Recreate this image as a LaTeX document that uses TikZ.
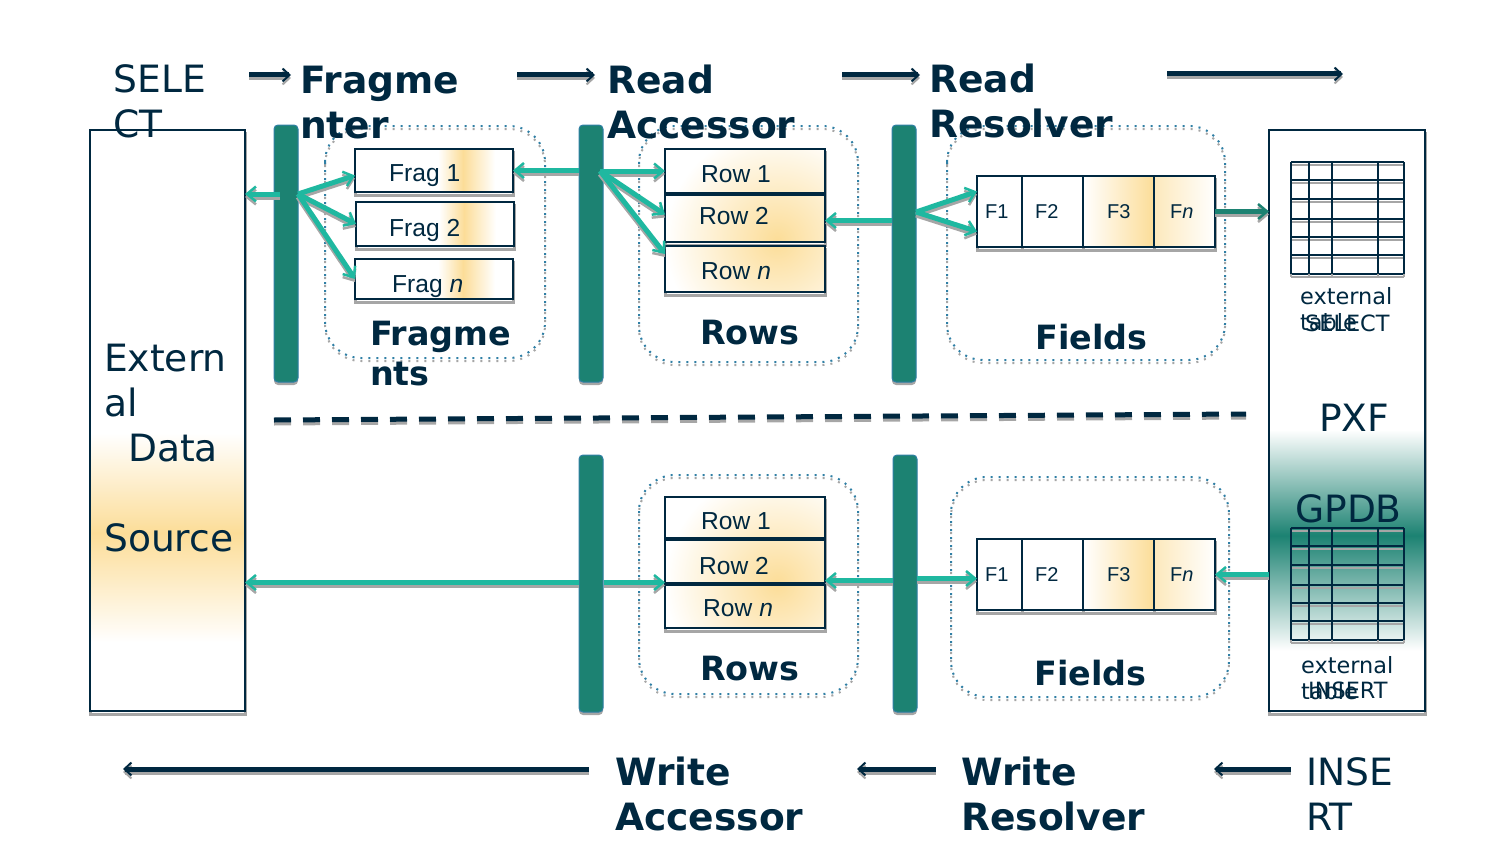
\documentclass[tikz,border=0pt]{standalone}
\usepackage{fontspec}
\setmainfont{DejaVu Sans}
\newfontfamily\libfont{Liberation Sans}
\usetikzlibrary{arrows.meta}
\definecolor{navy}{HTML}{002840}
\definecolor{barteal}{HTML}{1C8272}
\definecolor{wireteal}{HTML}{1FB8A0}
\definecolor{boxgold}{HTML}{FCDD98}
\definecolor{shadowgray}{HTML}{A6A6A6}
\definecolor{dotblue}{HTML}{2F7FA5}
\pgfdeclarehorizontalshading{fragfill}{100bp}{color(0bp)=(white);color(51.3bp)=(white);color(59.2bp)=(boxgold);color(69.3bp)=(white);color(100bp)=(white)}
\pgfdeclareverticalshading{sourcefill}{100bp}{color(0bp)=(white);color(30.9bp)=(white);color(40.3bp)=(boxgold);color(48.9bp)=(white);color(100bp)=(white)}
\pgfdeclareverticalshading{pxffill}{100bp}{color(0bp)=(white);color(30.2bp)=(white);color(40.1bp)=(barteal);color(49.2bp)=(white);color(100bp)=(white)}
\tikzset{
  boxshadow/.style={preaction={draw=shadowgray,line width=3pt,transform canvas={yshift=-3.5pt}}},
  barshadow/.style={preaction={fill=shadowgray,transform canvas={yshift=-3pt}}},
  lineshadow/.style={preaction={draw=shadowgray,line width=#1,transform canvas={yshift=-3pt}}},
  wireshadow/.style={preaction={draw=shadowgray,line width=5pt,transform canvas={yshift=-3pt},
    -{Straight Barb[length=9pt,width=15pt,line width=2.5pt]}}},
  flowshadow/.style={preaction={draw=shadowgray,line width=5pt,transform canvas={yshift=-3pt},
    -{Straight Barb[length=7pt,width=13pt,line width=2pt]}}},
  bigtext/.style={anchor=base west,inner sep=0pt,align=left,text=navy,font=\fontsize{37.6}{45}\selectfont},
  boldtext/.style={bigtext,font=\fontsize{37.6}{45}\selectfont\bfseries},
  headtext/.style={bigtext,font=\fontsize{33.4}{40}\selectfont\bfseries},
  smalltext/.style={anchor=base west,inner sep=0pt,align=left,text=navy,font=\fontsize{22.4}{26}\selectfont},
  boxlabel/.style={anchor=base west,inner sep=0pt,text=navy,font=\libfont\fontsize{24.6}{28}\selectfont},
  fieldlabel/.style={anchor=base west,inner sep=0pt,text=navy,font=\libfont\fontsize{20}{24}\selectfont},
  plainbox/.style={draw=navy,line width=2pt,fill=white,boxshadow,anchor=north west,inner sep=0pt,outer sep=0pt},
  fragbox/.style={plainbox,shading=fragfill},
  rowbox/.style={plainbox,path picture={\shade[inner color=boxgold,outer color=white] (#1) circle[radius=112];}},
  bar/.style={draw=dotblue,line width=1pt,fill=barteal,rounded corners=4pt,barshadow,anchor=north west,inner sep=0pt,outer sep=0pt,minimum width=24pt,minimum height=257pt},
  group/.style={draw=dotblue,line width=2pt,dash pattern=on 2pt off 6pt,rounded corners=36pt,
    preaction={draw=shadowgray,transform canvas={yshift=-3pt},line width=2pt,dash pattern=on 2pt off 6pt}},
  wire/.style={draw=wireteal,line width=5pt,-{Straight Barb[length=9pt,width=15pt,line width=2.5pt]},wireshadow},
  flow/.style={draw=navy,line width=5pt,-{Straight Barb[length=7pt,width=13pt,line width=2pt]},flowshadow},
  divider/.style={draw=navy,line width=5pt,dash pattern=on 17pt off 12pt,
    preaction={draw=shadowgray,line width=5pt,dash pattern=on 17pt off 12pt,transform canvas={yshift=-3pt}}},
  tableline/.style={draw=navy,line width=2.5pt,lineshadow=2.5pt},
}
\begin{document}
\begin{tikzpicture}[x=1pt,y=-1pt]
  \useasboundingbox (0,0) rectangle (1500,843);
  % dotted groups
  \draw[group] (325,126) rectangle (545,358);
  \draw[group] (639,126) rectangle (858,362);
  \draw[group] (947,126) rectangle (1225,360);
  \draw[group] (639,475) rectangle (858,694);
  \draw[group] (951,477) rectangle (1229,697);
  % end boxes
  \node[plainbox,shading=sourcefill,minimum width=155pt,minimum height=581pt] (source) at (90,130) {};
  \node[plainbox,shading=pxffill,minimum width=156pt,minimum height=581pt] (pxf) at (1269,130) {};
  % bars
  \node[bar] (bar1) at (274,125) {};
  \node[bar] (bar2) at (579,125) {};
  \node[bar] (bar3) at (892,125) {};
  \node[bar] (bar4) at (579,455) {};
  \node[bar] (bar5) at (893,455) {};
  % fragments
  \node[fragbox,minimum width=158pt,minimum height=43pt] (frag1) at (355,149) {};
  \node[fragbox,minimum width=158pt,minimum height=44pt] (frag2) at (356,202) {};
  \node[fragbox,minimum width=158pt,minimum height=40pt] (fragn) at (355,259) {};
  \node[boxlabel] (frag1text) at (389,181) {Frag 1};
  \node[boxlabel] (frag2text) at (389,236) {Frag 2};
  \node[boxlabel] (fragntext) at (392,292) {Frag \textit{n}};
  % rows
  \coordinate (glowup) at (777,240);
  \coordinate (glowlow) at (777,583);
  \node[rowbox=glowup,minimum width=160pt,minimum height=44pt] (row1) at (665,149) {};
  \node[rowbox=glowup,minimum width=160pt,minimum height=47pt] (row2) at (665,195) {};
  \node[rowbox=glowup,minimum width=160pt,minimum height=46pt] (rown) at (665,246) {};
  \node[rowbox=glowlow,minimum width=160pt,minimum height=41pt] (lowrow1) at (665,497) {};
  \node[rowbox=glowlow,minimum width=160pt,minimum height=43pt] (lowrow2) at (665,540) {};
  \node[rowbox=glowlow,minimum width=160pt,minimum height=43pt] (lowrown) at (665,585) {};
  \node[boxlabel] (row1text) at (701,182) {Row 1};
  \node[boxlabel] (row2text) at (699,224) {Row 2};
  \node[boxlabel] (rowntext) at (701,279) {Row \textit{n}};
  \node[boxlabel] (lowrow1text) at (701,529) {Row 1};
  \node[boxlabel] (lowrow2text) at (699,574) {Row 2};
  \node[boxlabel] (lowrowntext) at (703,616) {Row \textit{n}};
  % fields
  \foreach \N/\Y/\T in {up/176/218,low/539/581}
  {
    \node[plainbox,minimum width=45pt,minimum height=71pt] (\N f1) at (977,\Y) {};
    \node[plainbox,minimum width=61pt,minimum height=71pt] (\N f2) at (1022,\Y) {};
    \node[plainbox,left color=white,right color=boxgold,minimum width=71pt,minimum height=71pt] (\N f3) at (1083,\Y) {};
    \node[plainbox,left color=boxgold!65,right color=white,minimum width=61pt,minimum height=71pt] (\N fn) at (1154,\Y) {};
    \node[fieldlabel] (\N f1text) at (985,\T) {F1};
    \node[fieldlabel] (\N f2text) at (1035,\T) {F2};
    \node[fieldlabel] (\N f3text) at (1107,\T) {F3};
    \node[fieldlabel] (\N fntext) at (1170,\T) {F\textit{n}};
  }
  % external tables
  \foreach \Y in {162,528}
  {
    \foreach \R in {0,18,37,57,75,93,112}
      {\draw[tableline] (1291,\Y+\R) -- (1404,\Y+\R);}
    \foreach \C in {1291,1309,1332,1378,1404}
      {\draw[tableline] (\C,\Y) -- (\C,\Y+112);}
  }
  % texts
  \node[bigtext] (select) at (113.5,137) {SELE\\CT};
  \node[boldtext] (fragmenter) at (300,138) {Fragme\\nter};
  \node[boldtext] (readacc) at (607,138) {Read\\Accessor};
  \node[boldtext] (readres) at (929,137) {Read\\Resolver};
  \node[bigtext] (sourcetext) at (104,551) {Extern\\al\\\hspace*{24pt}Data\\[45pt]Source};
  \node[headtext] (fragments) at (370,385) {Fragme\\nts};
  \node[headtext] (rowsup) at (700,344) {Rows};
  \node[headtext] (fieldsup) at (1035,349) {Fields};
  \node[headtext] (rowslow) at (700,680) {Rows};
  \node[headtext] (fieldslow) at (1034,685) {Fields};
  \node[bigtext] (pxftext) at (1319,431) {PXF};
  \node[bigtext] (gpdb) at (1295,522) {GPDB};
  \node[smalltext] (exttable) at (1300,330) {external\\table};
  \node[smalltext] (selecttext) at (1305,331) {SELECT};
  \node[smalltext] (lowtable) at (1301,699) {external\\table};
  \node[smalltext] (inserttext) at (1308,698) {INSERT};
  \node[boldtext] (writeacc) at (615,830) {Write\\Accessor};
  \node[boldtext] (writeres) at (961,830) {Write\\Resolver};
  \node[bigtext] (insert) at (1306,830) {INSE\\RT};
  % divider
  \coordinate (divleft) at (274,420);
  \coordinate (divright) at (1246,414);
  \draw[divider] (divleft) -- (divright);
  % flow arrows
  \coordinate (f1a) at (249,75);
  \coordinate (f1b) at (291,75);
  \coordinate (f2a) at (517,75);
  \coordinate (f2b) at (595,75);
  \coordinate (f3a) at (842,75);
  \coordinate (f3b) at (920,75);
  \coordinate (f4a) at (1167,74);
  \coordinate (f4b) at (1343,74);
  \coordinate (f5a) at (589,769);
  \coordinate (f5b) at (123,769);
  \coordinate (f6a) at (936,769);
  \coordinate (f6b) at (857,769);
  \coordinate (f7a) at (1291,769);
  \coordinate (f7b) at (1214,769);
  \foreach \X in {1,...,7}
  {\draw[flow] (f\X a) -- (f\X b);}
  % wires, read side
  \coordinate (fana) at (298,194);
  \coordinate (fanb) at (600,171);
  \coordinate (fanc) at (916,212);
  \draw[wire] ([xshift=-6pt]bar1.center |- fana) -- (source.east |- fana);
  \draw[wire] (fana) -- ([yshift=-5pt]frag1.west);
  \draw[wire] (fana) -- (frag2.west);
  \draw[wire] (fana) -- (fragn.west);
  \draw[wire] (bar2.west |- frag1.east) -- (frag1.east);
  \draw[wire] (fanb) -- (row1.west);
  \draw[wire] (fanb) -- ([yshift=4pt]row2.west);
  \draw[wire] (fanb) -- ([yshift=15pt]rown.west);
  \draw[wire] ([yshift=-2pt]bar3.west |- row2.east) -- ([yshift=-2pt]row2.east);
  \draw[wire] (fanc) -- ([yshift=20pt]upf1.west);
  \draw[wire] (fanc) -- ([yshift=-20pt]upf1.west);
  \draw[wire,draw=barteal] (upfn.east) -- (pxf.west |- upfn.east);
  % wires, write side
  \draw[wire] (pxf.west |- lowfn.east) -- (lowfn.east);
  \draw[wire] ([yshift=-4pt]bar5.east |- lowf1.west) -- ([yshift=-4pt]lowf1.west);
  \draw[wire] ([yshift=-19pt]bar5.west |- lowrow2.east) -- ([yshift=-19pt]lowrow2.east);
  \draw[wire] ([xshift=1pt,yshift=-21pt]bar4.east |- lowrow2.west) -- ([yshift=-21pt]lowrow2.west);
  \draw[wire] ([yshift=-21pt]bar4.west |- lowrow2.east) -- ([yshift=-21pt]source.east |- lowrow2.east);
\end{tikzpicture}
\end{document}
